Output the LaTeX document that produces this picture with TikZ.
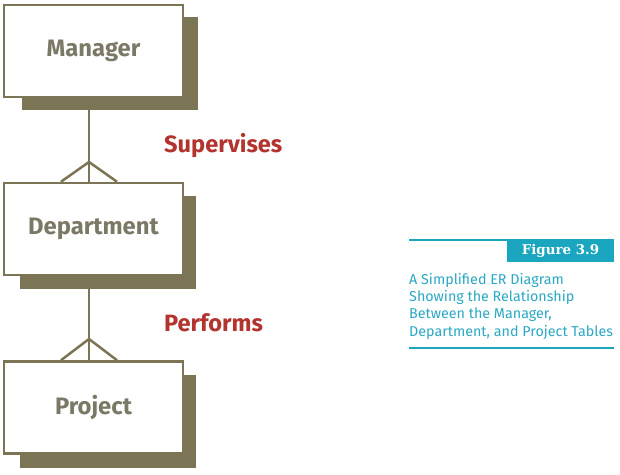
\documentclass[tikz,border=0pt]{standalone}
\usepackage{fontspec}
\setmainfont{Fira Sans}
\newfontfamily\slabfont{DejaVu Serif}
\definecolor{olive}{HTML}{7B7556}
\definecolor{boxtext}{HTML}{7C7866}
\definecolor{relred}{HTML}{B3332E}
\definecolor{teal}{HTML}{1BA6C0}
\definecolor{capteal}{HTML}{2AA8C4}
\newcommand{\lowered}[1]{\raisebox{-2.5pt}{#1}}
\tikzset{
  ebox/.style={draw=olive, line width=2.5pt, fill=white, minimum width=179pt, minimum height=92pt,
    inner sep=0pt, text=boxtext, font=\fontsize{23.8}{28}\selectfont\bfseries},
  eshadow/.style={fill=olive, draw=none, minimum width=176pt, minimum height=93pt, inner sep=0pt},
  conn/.style={draw=olive, line width=2.5pt},
  rel/.style={text=relred, font=\fontsize{23.6}{28}\selectfont\bfseries, anchor=base west, inner sep=0pt},
}
\begin{document}
\begin{tikzpicture}[x=1pt,y=-1pt]
\useasboundingbox[fill=white] (0,0) rectangle (620,474);
% shadows
\node[eshadow] (mgrS) at (110,63.5) {};
\node[eshadow] (depS) at (107.5,242.5) {};
\node[eshadow] (prjS) at (107.5,421) {};
% boxes
\node[ebox] (mgr) at (93.5,51) {\lowered{Manager}};
\node[ebox] (dep) at (93.5,229) {\lowered{Department}};
\node[ebox] (prj) at (93.5,407.5) {\lowered{Project}};
% connectors
\coordinate (a1) at (89,162);
\coordinate (a2) at (89,339);
\draw[conn] (89,0 |- mgrS.south) -- (89,0 |- dep.north);
\draw[conn] ([xshift=-28pt]89,0 |- dep.north) -- (a1) -- ([xshift=28pt]89,0 |- dep.north);
\draw[conn] (89,0 |- depS.south) -- (89,0 |- prj.north);
\draw[conn] ([xshift=-28pt]89,0 |- prj.north) -- (a2) -- ([xshift=28pt]89,0 |- prj.north);
% relationship labels
\node[rel] (sup) at (164,152) {Supervises};
\node[rel] (per) at (164,331) {Performs};
% figure caption
\coordinate (l1) at (409,240);
\coordinate (l2) at (614,240);
\draw[teal, line width=1.5pt] (l1) -- (l2);
\node[fill=teal, minimum width=107pt, minimum height=22pt, inner sep=0pt, text=white,
      font=\slabfont\fontsize{13.4}{15}\selectfont\bfseries] (fig) at (560.5,251) {Figure 3.9};
\node[anchor=north west, align=left, inner sep=0pt, text=capteal,
      font=\fontsize{14.3}{17.3}\selectfont] (cap) at (409,273)
  {A Simplified ER Diagram\\Showing the Relationship\\Between the Manager,\\Department, and Project Tables};
\coordinate (b1) at (409,348);
\coordinate (b2) at (614,348);
\draw[teal, line width=1.5pt] (b1) -- (b2);
\end{tikzpicture}
\end{document}
